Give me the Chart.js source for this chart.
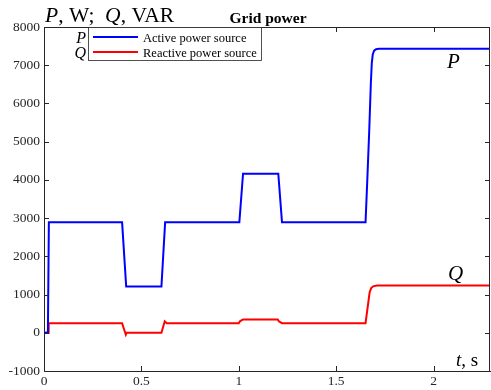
<!DOCTYPE html>
<html>
<head>
<meta charset="utf-8">
<script src="https://cdn.jsdelivr.net/npm/chart.js@4.4.0/dist/chart.umd.min.js"></script>
<style>
  html,body{margin:0;padding:0;background:#fff;}
  #wrap{width:491px;height:390px;position:relative;}
</style>
</head>
<body>
<div id="wrap"><canvas id="chart" width="491" height="390"></canvas></div>
<script>
/* data */
const tP = [0, 0.02, 0.025, 0.401, 0.422, 0.603, 0.622, 1.003, 1.022, 1.203, 1.222, 1.651, 1.66, 1.67, 1.678, 1.683, 1.688, 1.695, 1.705, 1.72, 2.29];
const pVals = [0, 0, 2890, 2890, 1210, 1210, 2890, 2890, 4160, 4160, 2890, 2890, 4000, 5300, 6500, 7050, 7280, 7380, 7420, 7430, 7430];

const tQ = [0, 0.022, 0.024, 0.401, 0.42, 0.424, 0.603, 0.62, 0.63, 1.0, 1.006, 1.022, 1.2, 1.206, 1.222, 1.651, 1.672, 1.68, 1.69, 1.71, 2.29];
const qVals = [0, 0, 250, 250, -50, 0, 0, 300, 250, 250, 300, 350, 350, 300, 250, 250, 1060, 1170, 1215, 1235, 1235];

const xTicks = [0, 0.5, 1, 1.5, 2];
const yTicks = [-1000, 0, 1000, 2000, 3000, 4000, 5000, 6000, 7000, 8000];
const seriesNames = ['Active power source', 'Reactive power source'];
const seriesKeys = ['P', 'Q'];
const seriesColors = ['#0000ff', '#ff0000'];

const AX = '#262626';
const SERIF = '"Liberation Serif", "Times New Roman", serif';

function pts(t, v){ return t.map((x,i)=>({x:x, y:v[i]})); }

/* box, inward ticks, labels and legend */
const decor = {
  id:'decor',
  afterDraw(chart){
    const {ctx, chartArea:a, scales:{x, y}} = chart;
    ctx.save();
    ctx.strokeStyle = AX; ctx.lineWidth = 1;
    ctx.beginPath();
    ctx.moveTo(a.left, a.top+0.5); ctx.lineTo(a.right, a.top+0.5);
    ctx.moveTo(a.right-0.5, a.top); ctx.lineTo(a.right-0.5, a.bottom);
    xTicks.forEach(v=>{
      const px = Math.round(x.getPixelForValue(v))+0.5;
      ctx.moveTo(px, a.bottom); ctx.lineTo(px, a.bottom-5);
      ctx.moveTo(px, a.top); ctx.lineTo(px, a.top+5);
    });
    yTicks.forEach(v=>{
      const py = Math.round(y.getPixelForValue(v))+0.5;
      ctx.moveTo(a.left, py); ctx.lineTo(a.left+5, py);
      ctx.moveTo(a.right, py); ctx.lineTo(a.right-5, py);
    });
    ctx.stroke();

    // legend
    const lx = 88.5, ly = 27.5, lw = 173, lh = 33;
    ctx.fillStyle = '#fff'; ctx.fillRect(lx, ly, lw, lh);
    ctx.strokeStyle = AX; ctx.lineWidth = 0.8; ctx.strokeRect(lx, ly, lw, lh);
    ctx.textBaseline = 'alphabetic';
    seriesNames.forEach((n,i)=>{
      const yy = 37 + i*15;
      ctx.strokeStyle = seriesColors[i]; ctx.lineWidth = 2;
      ctx.beginPath(); ctx.moveTo(93, yy); ctx.lineTo(138, yy); ctx.stroke();
      ctx.fillStyle = '#000'; ctx.textAlign = 'left';
      ctx.font = '12.5px ' + SERIF;
      ctx.fillText(n, 143, yy + 4.5);
      ctx.textAlign = 'right';
      ctx.font = 'italic 16px ' + SERIF;
      ctx.fillText(seriesKeys[i], 86, yy + 5.5);
    });

    // y axis label with italic symbols
    const parts = [['P',true],[', W;  ',false],['Q',true],[', VAR',false]];
    let cx = 45;
    ctx.textAlign = 'left'; ctx.fillStyle = '#000';
    parts.forEach(([s,it])=>{
      ctx.font = (it?'italic ':'') + '21.5px ' + SERIF;
      ctx.fillText(s, cx, 22);
      cx += ctx.measureText(s).width;
    });

    // title
    ctx.font = 'bold 15.5px ' + SERIF;
    ctx.textAlign = 'center';
    ctx.fillText('Grid power', 268, 23);

    // curve tags
    ctx.textAlign = 'left';
    ctx.font = 'italic 21px ' + SERIF;
    ctx.fillText('P', 447, 68);
    ctx.fillText('Q', 448, 280);

    // x axis label
    ctx.font = 'italic 19px ' + SERIF;
    ctx.fillText('t', 456, 366);
    let tw = ctx.measureText('t').width;
    ctx.font = '19px ' + SERIF;
    ctx.fillText(', s', 456 + tw, 366);
    ctx.restore();
  }
};

new Chart(document.getElementById('chart'), {
  type:'line',
  data:{
    datasets:[
      {label:seriesNames[0], data:pts(tP, pVals), borderColor:seriesColors[0], borderWidth:2, pointRadius:0, tension:0, fill:false},
      {label:seriesNames[1], data:pts(tQ, qVals), borderColor:seriesColors[1], borderWidth:2, pointRadius:0, tension:0, fill:false}
    ]
  },
  options:{
    responsive:false, animation:false, devicePixelRatio:1,
    layout:{padding:{top:27, right:1, left:0, bottom:0}},
    plugins:{legend:{display:false}, tooltip:{enabled:false}},
    scales:{
      x:{
        type:'linear', min:0, max:2.29,
        afterBuildTicks:s=>{ s.ticks = xTicks.map(v=>({value:v})); },
        afterFit:s=>{ s.height = 19; },
        grid:{display:false, drawTicks:false},
        border:{display:true, color:AX, width:1},
        ticks:{color:AX, padding:2, maxRotation:0, font:{family:SERIF, size:13.5}, callback:v=>String(v)}
      },
      y:{
        type:'linear', min:-1000, max:8000,
        afterBuildTicks:s=>{ s.ticks = yTicks.map(v=>({value:v})); },
        afterFit:s=>{ s.width = 44; },
        grid:{display:false, drawTicks:false},
        border:{display:true, color:AX, width:1},
        ticks:{color:AX, padding:4, font:{family:SERIF, size:13.5}, callback:v=>String(v)}
      }
    }
  },
  plugins:[decor]
});
</script>
</body>
</html>
